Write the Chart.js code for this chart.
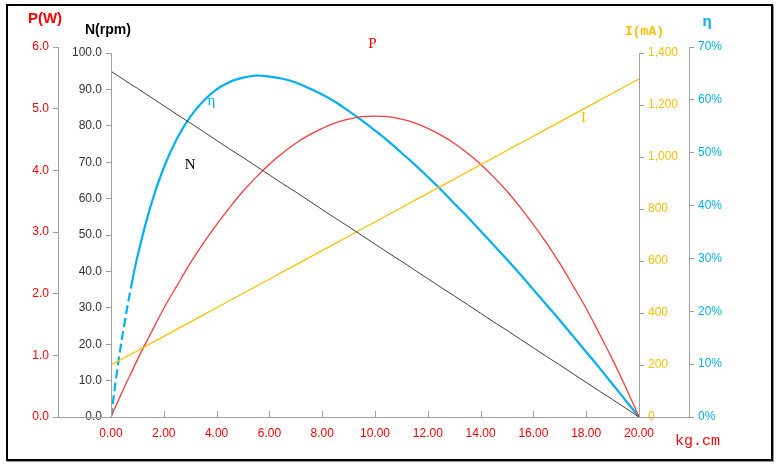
<!DOCTYPE html>
<html>
<head>
<meta charset="utf-8">
<script src="https://cdn.jsdelivr.net/npm/chart.js@4.4.0/dist/chart.umd.min.js"></script>
<style>
  html, body { margin: 0; padding: 0; background: #fff; }
  #frame { position: absolute; left: 6px; top: 4px; width: 763px; height: 453px; border: 2px solid #000; box-shadow: 1px 1px 0 #9a9a9a; }
  #chart { position: absolute; left: 0; top: 0; }
</style>
</head>
<body>
<div id="frame"></div>
<canvas id="chart" width="782" height="467"></canvas>
<script>
(function () {
    "use strict";

    // torque (kg.cm) and the curves
    const torque     = [0, 0.25, 0.5, 0.75, 1, 1.5, 2, 2.5, 3, 3.5, 4, 4.5, 5, 5.5, 6, 6.5, 7, 7.5, 8, 8.5, 9, 9.5, 10, 10.5, 11, 11.5, 12, 12.5, 13, 13.5, 14, 14.5, 15, 15.5, 16, 16.5, 17, 17.5, 18, 18.5, 19, 19.5, 20];
    const speed      = [95, 93.8, 92.6, 91.4, 90.3, 87.9, 85.5, 83.1, 80.8, 78.4, 76, 73.6, 71.3, 68.9, 66.5, 64.1, 61.8, 59.4, 57, 54.6, 52.3, 49.9, 47.5, 45.1, 42.8, 40.4, 38, 35.6, 33.3, 30.9, 28.5, 26.1, 23.8, 21.4, 19, 16.6, 14.3, 11.9, 9.5, 7.1, 4.8, 2.4, 0];
    const current    = [200, 214, 228, 241, 255, 283, 310, 338, 365, 393, 420, 448, 475, 503, 530, 558, 585, 613, 640, 668, 695, 723, 750, 778, 805, 833, 860, 888, 915, 943, 970, 998, 1025, 1053, 1080, 1108, 1135, 1163, 1190, 1218, 1245, 1273, 1300];
    const power      = [0, 0.24, 0.48, 0.70, 0.93, 1.35, 1.76, 2.13, 2.49, 2.82, 3.12, 3.40, 3.66, 3.89, 4.10, 4.28, 4.44, 4.57, 4.68, 4.77, 4.83, 4.87, 4.88, 4.87, 4.83, 4.77, 4.68, 4.57, 4.44, 4.28, 4.10, 3.89, 3.66, 3.40, 3.12, 2.82, 2.49, 2.13, 1.76, 1.35, 0.93, 0.48, 0];
    const efficiency = [0, 9.4, 17.4, 24.3, 30.3, 39.9, 47.2, 52.7, 56.8, 59.8, 62.0, 63.4, 64.2, 64.6, 64.4, 64.0, 63.3, 62.2, 61.0, 59.6, 57.9, 56.1, 54.2, 52.2, 50.0, 47.8, 45.4, 43.0, 40.4, 37.9, 35.2, 32.5, 29.8, 27.0, 24.1, 21.2, 18.3, 15.3, 12.3, 9.3, 6.2, 3.1, 0];
    const dashedUpTo = 0.75; // efficiency drawn dashed near zero torque

    // tick values for the axes whose top sits below the chart top
    const speedTicks   = [0, 10, 20, 30, 40, 50, 60, 70, 80, 90, 100];
    const currentTicks = [0, 200, 400, 600, 800, 1000, 1200, 1400];

    // curve labels, in torque / rpm units
    const curveLabels = [
        { text: "P", x: 9.9, y: 102.5, color: "#FF0000" },
        { text: "η", x: 3.8, y: 86.8, color: "#00B0F0" },
        { text: "N", x: 3.0, y: 69.2, color: "#000000" },
        { text: "I", x: 17.9, y: 82.1, color: "#FFC000" },
    ];

    const RED = "#FF0000", GOLD = "#FFC000", BLUE = "#00B0F0", AXIS = "#a0a0a0";
    const tickFont = { family: "Liberation Sans", size: 12 };

    const pts = vals => torque.map((t, i) => ({ x: t, y: vals[i] }));

    function sideAxis(position, weight, width, color, extra) {
        return Object.assign({
            type: "linear",
            position: position,
            weight: weight,
            min: 0,
            bounds: "data",
            grid: { drawOnChartArea: false, drawTicks: true, tickLength: 5, color: AXIS },
            border: { color: AXIS, width: 1 },
            ticks: { font: tickFont, color: color, padding: 4, includeBounds: false },
            afterFit: s => { s.width = width; },
        }, extra);
    }

    const scales = {
        x: {
            type: "linear",
            position: "bottom",
            min: 0,
            max: 20,
            grid: { display: false, drawTicks: false },
            border: { display: false },
            ticks: { stepSize: 2, font: tickFont, color: RED, padding: 9, callback: v => v.toFixed(2) },
            afterFit: s => { s.height = 50; },
        },
        n: sideAxis("left", 0, 53, "#333333", {
            max: 100 * 370 / 364,
            border: { display: false },
            afterBuildTicks: s => { s.ticks = speedTicks.map(v => ({ value: v })); },
        }),
        p: sideAxis("left", 1, 58, RED, { max: 6 }),
        i: sideAxis("right", 0, 50, GOLD, {
            max: 1400 * 370 / 364,
            border: { display: false },
            afterBuildTicks: s => { s.ticks = currentTicks.map(v => ({ value: v })); },
        }),
        eta: sideAxis("right", 1, 93, BLUE, { max: 70 }),
    };
    scales.n.ticks.callback = v => v.toFixed(1);
    scales.p.ticks.stepSize = 1;
    scales.p.ticks.callback = v => v.toFixed(1);
    scales.i.ticks.callback = v => v.toLocaleString("en-US");
    scales.eta.ticks.stepSize = 10;
    scales.eta.ticks.callback = v => v + "%";

    // axis lines, x tick marks, titles and curve labels
    const decorations = {
        id: "decorations",
        afterDraw(chart) {
            const c = chart.ctx;
            const s = chart.scales;
            const bottom = chart.chartArea.bottom;
            c.save();
            c.strokeStyle = AXIS;
            c.lineWidth = 1;
            c.beginPath();
            c.moveTo(s.p.right, bottom + 0.5);
            c.lineTo(s.eta.left, bottom + 0.5);
            const nx = Math.round(s.n.right) + 0.5;
            c.moveTo(nx, s.n.getPixelForValue(100));
            c.lineTo(nx, bottom);
            const ix = Math.round(s.i.left) + 0.5;
            c.moveTo(ix, s.i.getPixelForValue(1400));
            c.lineTo(ix, bottom);
            s.x.ticks.forEach(t => {
                const px = Math.round(s.x.getPixelForValue(t.value)) + 0.5;
                c.moveTo(px, bottom - 6);
                c.lineTo(px, bottom);
            });
            c.stroke();

            c.textBaseline = "middle";
            c.textAlign = "center";
            c.fillStyle = RED;
            c.font = "bold 15px Liberation Sans";
            c.fillText("P(W)", 45, 19);
            c.textAlign = "left";
            c.fillStyle = "#000";
            c.font = "bold 14px Liberation Sans";
            c.fillText("N(rpm)", 85, 30);
            c.fillStyle = GOLD;
            c.font = "bold 13px Liberation Mono";
            c.fillText("I(mA)", 625, 32);
            c.fillStyle = BLUE;
            c.font = "bold 15px Liberation Sans";
            c.textAlign = "center";
            c.fillText("η", 707, 22);
            c.fillStyle = RED;
            c.font = "15px Liberation Mono";
            c.textAlign = "left";
            c.fillText("kg.cm", 675, 441);

            c.textAlign = "center";
            c.font = "15px Liberation Serif";
            curveLabels.forEach(l => {
                c.fillStyle = l.color;
                c.fillText(l.text, s.x.getPixelForValue(l.x), s.n.getPixelForValue(l.y));
            });
            c.restore();
        },
    };

    new Chart(document.getElementById("chart"), {
        type: "line",
        data: {
            datasets: [
                { label: "N", data: pts(speed), yAxisID: "n", borderColor: "#404040", borderWidth: 1, pointRadius: 0 },
                { label: "I", data: pts(current), yAxisID: "i", borderColor: GOLD, borderWidth: 1.3, pointRadius: 0 },
                { label: "P", data: pts(power), yAxisID: "p", borderColor: "#FF3B3B", borderWidth: 1.3, pointRadius: 0, tension: 0.4 },
                {
                    label: "η", data: pts(efficiency), yAxisID: "eta", borderColor: BLUE, borderWidth: 2.2, pointRadius: 0,
                    tension: 0.4,
                    segment: { borderDash: ctx => (ctx.p1.parsed.x <= dashedUpTo ? [9, 4] : undefined) },
                },
            ],
        },
        options: {
            responsive: false,
            animation: false,
            devicePixelRatio: 1,
            layout: { padding: { top: 47, left: 0, right: 0, bottom: 0 } },
            plugins: { legend: { display: false }, tooltip: { enabled: false } },
            scales: scales,
        },
        plugins: [decorations],
    });
})();
</script>
</body>
</html>
